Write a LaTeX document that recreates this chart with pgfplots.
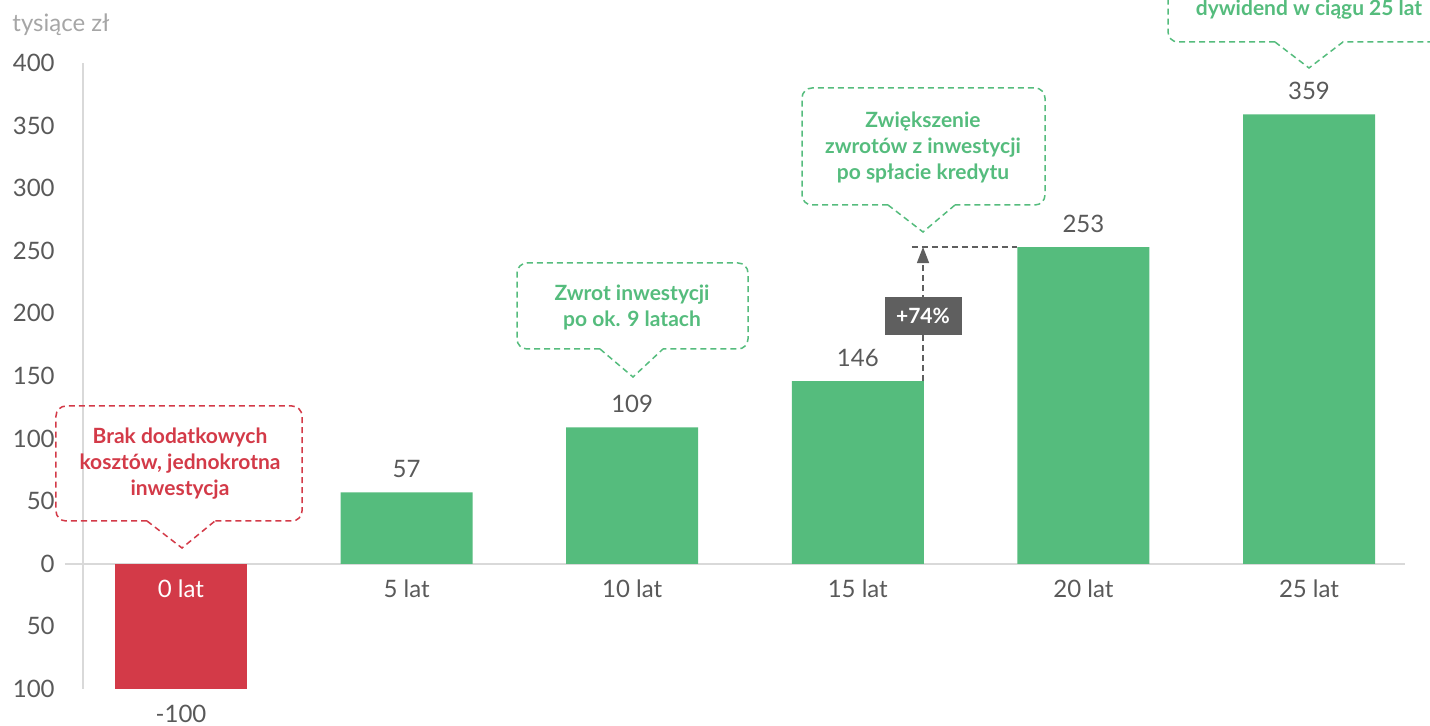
\documentclass[border=0pt]{standalone}
\usepackage{fontspec}
\setmainfont{Lato}
\usepackage{pgfplots}
\pgfplotsset{compat=1.18}
\usetikzlibrary{arrows.meta}

\definecolor{barG}{RGB}{85,188,125}
\definecolor{barR}{RGB}{211,58,72}
\definecolor{txt}{RGB}{89,89,89}
\definecolor{unit}{RGB}{166,166,166}
\definecolor{axgray}{RGB}{217,217,217}
\definecolor{boxgray}{RGB}{95,95,95}

\newcommand\lblfont{\fontsize{12}{14}\selectfont}
\newcommand\notefont{\fontsize{10.5}{13}\selectfont\bfseries}

\begin{document}
\begin{tikzpicture}
\useasboundingbox (-41.5pt,-18.5pt) rectangle (673.5pt,344.5pt);
\begin{axis}[
    at={(0,0)}, anchor=south west,
    scale only axis,
    width=661pt, height=313pt,
    xmin=-0.4344, xmax=5.4255,
    ymin=-100, ymax=400,
    clip=false,
    axis x line=middle,
    axis y line=left,
    axis line style={-, axgray, line width=0.75pt},
    x axis line style={shorten <=-9pt},
    major tick length=0pt,
    ytick={-100,-50,0,50,100,150,200,250,300,350,400},
    yticklabels={100,50,0,50,100,150,200,250,300,350,400},
    yticklabel style={anchor=east, inner sep=0pt, xshift=-14pt, font=\lblfont, text=txt},
    xtick={0,1,2,3,4,5},
    xticklabels={{},5 lat,10 lat,15 lat,20 lat,25 lat},
    xticklabel style={anchor=center, inner sep=0pt, yshift=-12.5pt, font=\lblfont, text=txt},
    /pgf/number format/assume math mode=true,
]
% wartosci skumulowane (tys. zl)
\addplot[ybar, bar width=66pt, bar shift=0pt, fill=barR, draw=none,
    nodes near coords,
    every node near coord/.append style={anchor=center, yshift=-12.5pt, font=\lblfont, text=txt}]
    coordinates {(0,-100)};
\addplot[ybar, bar width=66pt, bar shift=0pt, fill=barG, draw=none,
    nodes near coords,
    every node near coord/.append style={anchor=center, yshift=11.5pt, font=\lblfont, text=txt}]
    coordinates {(1,57) (2,109) (3,146) (4,253) (5,359)};

% first category label sits inside the red bar, so it goes on top of it
\node[text=white, font=\lblfont, anchor=center, inner sep=0pt, yshift=-12.5pt]
    at (axis cs:0,0) {0 lat};

% +74% marker
\draw[boxgray, line width=0.75pt, dash pattern=on 3pt off 2pt]
    (axis cs:3.240,253) -- (axis cs:3.706,253);
\draw[boxgray, line width=0.75pt, dash pattern=on 3pt off 2pt, -{Triangle[width=6pt,length=8pt]}]
    (axis cs:3.289,146) -- (axis cs:3.289,253);
\node[fill=boxgray, text=white, font=\notefont, minimum width=38.5pt, minimum height=19pt, inner sep=0pt]
    at (axis cs:3.289,198) {+74\%};
\end{axis}

% annotations in pixel coordinates of the reference
\begin{scope}[x=0.5pt, y=-0.5pt, shift={(-41.5pt,344.5pt)}]
\node[text=unit, font=\lblfont, anchor=west, inner sep=0pt] at (12,25) {tysiące zł};

\begin{scope}[barR, line width=0.75pt, dash pattern=on 3pt off 2pt]
\draw[rounded corners=5pt] (147,521) -- (56,521) -- (56,406) -- (302,406) -- (302,521) -- (215,521);
\draw (147,521) -- (182,548) -- (215,521);
\end{scope}
\node[text=barR, font=\notefont, align=center] at (180,464)
    {Brak dodatkowych\\kosztów, jednokrotna\\inwestycja};

\begin{scope}[barG, line width=0.75pt, dash pattern=on 3pt off 2pt]
\draw[rounded corners=5pt] (600,349) -- (517,349) -- (517,263) -- (748,263) -- (748,349) -- (663,349);
\draw (600,349) -- (633,377) -- (663,349);
\draw[rounded corners=5pt] (888,205) -- (802,205) -- (802,88) -- (1045,88) -- (1045,205) -- (955,205);
\draw (888,205) -- (923,232) -- (955,205);
\draw[rounded corners=5pt] (1275,42) -- (1168,42) -- (1168,-40);
\draw (1275,42) -- (1309,68) -- (1343,42) -- (1460,42);
\end{scope}
\node[text=barG, font=\notefont, align=center] at (632,307)
    {Zwrot inwestycji\\po ok. 9 latach};
\node[text=barG, font=\notefont, align=center] at (923,147)
    {Zwiększenie\\zwrotów z inwestycji\\po spłacie kredytu};
\node[text=barG, font=\notefont, align=center] at (1309,10)
    {dywidend w ciągu 25 lat};
\end{scope}
\end{tikzpicture}
\end{document}
